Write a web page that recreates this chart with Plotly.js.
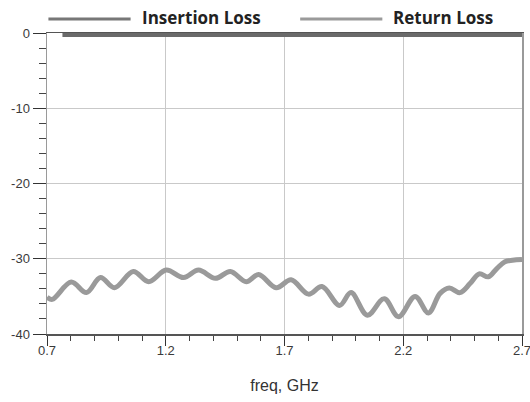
<!DOCTYPE html>
<html>
<head>
<meta charset="utf-8">
<script src="https://cdn.plot.ly/plotly-3.0.1.min.js"></script>
<style>html,body{margin:0;padding:0;background:#fff;}#chart{width:530px;height:402px;}</style>
</head>
<body>
<div id="chart"></div>
<script>
// Data
const seriesNames = ["Insertion Loss", "Return Loss"];
const ilFreq = [0.765, 1.2, 1.7, 2.2, 2.7];
const ilVals = [-0.25, -0.25, -0.25, -0.25, -0.25];
const rlFreq = [0.70, 0.722, 0.802, 0.866, 0.925, 0.984, 1.063, 1.128, 1.202, 1.275, 1.338, 1.409, 1.472, 1.539, 1.591, 1.665, 1.728, 1.801, 1.858, 1.932, 1.980, 2.049, 2.120, 2.180, 2.250, 2.306, 2.355, 2.394, 2.439, 2.481, 2.520, 2.558, 2.594, 2.628, 2.660, 2.700];
const rlVals = [-35.1, -35.4, -33.1, -34.5, -32.5, -33.85, -31.7, -33.05, -31.5, -32.5, -31.5, -32.6, -31.7, -33.05, -32.1, -33.85, -32.8, -34.7, -33.7, -36.2, -34.5, -37.5, -35.3, -37.7, -35.0, -37.2, -34.6, -33.9, -34.5, -33.3, -32.0, -32.4, -31.3, -30.4, -30.2, -30.1];
const xTickVals = [0.7, 1.2, 1.7, 2.2, 2.7];
const xTickText = ["0.7", "1.2", "1.7", "2.2", "2.7"];
const yTickVals = [0, -10, -20, -30, -40];
const yTickText = ["0", "-10", "-20", "-30", "-40"];
const xTitle = "freq, GHz";

const ilColor = "#6a6a6a";
const rlColor = "#9a9a9a";

const traces = [
  {x: ilFreq, y: ilVals, type: "scatter", mode: "lines", name: seriesNames[0],
   line: {color: ilColor, width: 4}, showlegend: false, hoverinfo: "skip"},
  {x: rlFreq, y: rlVals, type: "scatter", mode: "lines", name: seriesNames[1],
   line: {color: rlColor, width: 5, shape: "spline", smoothing: 1}, showlegend: false, hoverinfo: "skip"}
];

const tickFont = {family: "Liberation Sans", size: 13, color: "#3a3a3a"};
const legFont = {family: "Open Sans", size: 17, color: "#222", weight: "bold"};

const layout = {
  width: 530, height: 402,
  margin: {l: 47, r: 8, t: 33, b: 68, pad: 0},
  paper_bgcolor: "#fff", plot_bgcolor: "#fff",
  showlegend: false,
  xaxis: {
    range: [0.7, 2.7], tickmode: "array", tickvals: xTickVals, ticktext: xTickText,
    ticks: "outside", ticklen: 10, tickwidth: 1, tickcolor: "#333",
    minor: {tick0: 0.7, dtick: 0.1, ticks: "outside", ticklen: 5, tickwidth: 1, tickcolor: "#444", showgrid: false},
    showgrid: true, gridcolor: "#c9c9c9", gridwidth: 1, zeroline: false,
    showline: true, linecolor: "#555", linewidth: 1.5, mirror: true,
    tickfont: tickFont, ticklabeloverflow: "allow", ticklabelstandoff: -6,
    title: {text: xTitle, font: {family: "Liberation Sans", size: 16, color: "#333"}, standoff: 22}
  },
  yaxis: {
    range: [-40, 0], tickmode: "array", tickvals: yTickVals, ticktext: yTickText,
    ticks: "outside", ticklen: 13, tickwidth: 1, tickcolor: "#333",
    minor: {tick0: 0, dtick: 2, ticks: "outside", ticklen: 7, tickwidth: 1, tickcolor: "#444", showgrid: false},
    showgrid: true, gridcolor: "#c9c9c9", gridwidth: 1, zeroline: false,
    showline: true, linecolor: "#9a9a9a", linewidth: 1.5, mirror: true,
    tickfont: tickFont, ticklabeloverflow: "allow"
  },
  shapes: [
    {type: "line", xref: "paper", yref: "paper", x0: 0.003, x1: 0.176, y0: 1.0465, y1: 1.0465, line: {color: "#777", width: 3}},
    {type: "line", xref: "paper", yref: "paper", x0: 0.533, x1: 0.706, y0: 1.0465, y1: 1.0465, line: {color: rlColor, width: 3}}
  ],
  annotations: [
    {xref: "paper", yref: "paper", x: 0.195, y: 1.053, xanchor: "left", yanchor: "middle", showarrow: false, text: seriesNames[0], font: legFont},
    {xref: "paper", yref: "paper", x: 0.725, y: 1.053, xanchor: "left", yanchor: "middle", showarrow: false, text: seriesNames[1], font: legFont}
  ]
};

Plotly.newPlot("chart", traces, layout, {staticPlot: true, displayModeBar: false});
</script>
</body>
</html>
